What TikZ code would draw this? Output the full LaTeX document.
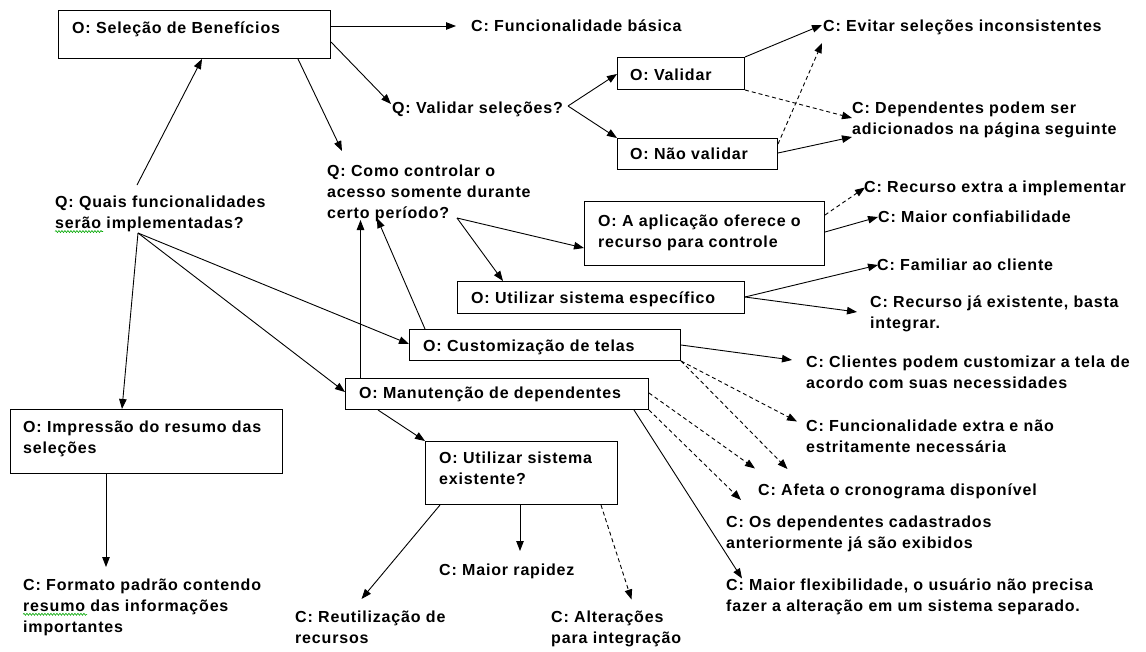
\documentclass[tikz,border=0pt]{standalone}
\usepackage{fontspec}
\newfontfamily\diagfont{Liberation Sans Bold}[LetterSpace=5.2]
\usetikzlibrary{arrows.meta,calc,decorations.pathmorphing}

\begin{document}
\begin{tikzpicture}[x=1pt,y=-1pt,
  box/.style={draw, line width=1pt, inner sep=0pt, anchor=north west},
  % text nodes: anchored at the baseline of their last line
  txt/.style={inner sep=0pt, anchor=base west, align=left,
              font=\diagfont\fontsize{16}{21}\selectfont},
  link/.style={line width=0.9pt, -{Triangle[length=10pt,width=7.5pt]}},
  dlink/.style={link, dash pattern=on 4pt off 3pt},
  spell/.style={draw=green!65!black, line width=0.6pt,
                decorate, decoration={snake, amplitude=1pt, segment length=3pt}},
]
\useasboundingbox (0,0) rectangle (1146,651);

% ---------- option boxes ----------
\node[box, minimum width=272pt, minimum height=48pt] (bSel)  at (58,10)  {};
\node[box, minimum width=127pt, minimum height=32pt] (bVal)  at (617,57) {};
\node[box, minimum width=160pt, minimum height=31pt] (bNVal) at (617,138) {};
\node[box, minimum width=240pt, minimum height=64pt] (bApl)  at (584,201) {};
\node[box, minimum width=287pt, minimum height=32pt] (bEsp)  at (457,281) {};
\node[box, minimum width=271pt, minimum height=31pt] (bCus)  at (409,329) {};
\node[box, minimum width=303pt, minimum height=31pt] (bMan)  at (345,378) {};
\node[box, minimum width=192pt, minimum height=63pt] (bExi)  at (425,441) {};
\node[box, minimum width=272pt, minimum height=64pt] (bImp)  at (10,409)  {};

% ---------- box captions ----------
\node[txt] (tSel)  at (72,33.3)  {O: Seleção de Benefícios};
\node[txt] (tVal)  at (630,80)   {O: Validar};
\node[txt] (tNVal) at (630,159.5){O: Não validar};
\node[txt] (tApl)  at (598,247)  {O: A aplicação oferece o\\recurso para controle};
\node[txt] (tEsp)  at (471,303)  {O: Utilizar sistema específico};
\node[txt] (tCus)  at (423,351.5){O: Customização de telas};
\node[txt] (tMan)  at (359,398.5){O: Manutenção de dependentes};
\node[txt] (tExi)  at (439,484.5){O: Utilizar sistema\\existente?};
\node[txt] (tImp)  at (23,453)   {O: Impressão do resumo das\\seleções};

% ---------- questions ----------
\node[txt] (qVal) at (392,113) {Q: Validar seleções?};
\node[txt] (qQua) at (55,228)  {Q: Quais funcionalidades\\serão implementadas?};
\node[txt] (qCom) at (327,218) {Q: Como controlar o\\acesso somente durante\\certo período?};

% ---------- criteria ----------
\node[txt] (cBas) at (471,31.5)  {C: Funcionalidade básica};
\node[txt] (cEvi) at (823,31.5)  {C: Evitar seleções inconsistentes};
\node[txt] (cDep) at (852,134.5) {C: Dependentes podem ser\\adicionados na página seguinte};
\node[txt] (cExt) at (864,192.5) {C: Recurso extra a implementar};
\node[txt] (cCon) at (878,222.5) {C: Maior confiabilidade};
\node[txt] (cFam) at (877,270.5) {C: Familiar ao cliente};
\node[txt] (cRec) at (870,328.5) {C: Recurso já existente, basta\\integrar.};
\node[txt] (cCli) at (806,388)   {C: Clientes podem customizar a tela de\\acordo com suas necessidades};
\node[txt] (cFex) at (806,452.5) {C: Funcionalidade extra e não\\estritamente necessária};
\node[txt] (cAfe) at (758,495)   {C: Afeta o cronograma disponível};
\node[txt] (cOsd) at (726,548)   {C: Os dependentes cadastrados\\anteriormente já são exibidos};
\node[txt] (cFle) at (726,611.5) {C: Maior flexibilidade, o usuário não precisa\\fazer a alteração em um sistema separado.};
\node[txt] (cFor) at (23,632)    {C: Formato padrão contendo\\resumo das informações\\importantes};
\node[txt] (cReu) at (295,643)   {C: Reutilização de\\recursos};
\node[txt] (cRap) at (439,575.5) {C: Maior rapidez};
\node[txt] (cAlt) at (551,643)   {C: Alterações\\para integração};

% spell-check underlines
\draw[spell] ($(qQua.base west)+(0,3.5)$) -- ($(qQua.base west)+(48,3.5)$);
\draw[spell] ($(cFor.base west)+(0,-17.7)$) -- ($(cFor.base west)+(64,-17.7)$);

% ---------- connectors ----------
% Seleção de Benefícios
\draw[link] ($(bSel.north east)+(0,16)$) -- ($(cBas.base west)+(-15,-5.5)$);
\draw[link] ($(bSel.north east)+(0,32)$) -- ($(qVal.base west)+(-1,-9)$);
\draw[link] ($(bSel.south west)+(240,0)$) -- ($(qCom.base west)+(15,-67)$);
\draw[link] ($(qQua.base west)+(82,-43)$) -- ($(bSel.south west)+(144,0)$);

% Validar seleções?
\coordinate (vVal) at ($(qVal.base west)+(176,-7)$);
\draw[link] (vVal) -- ($(bVal.north west)+(0,17)$);
\draw[link] (vVal) -- (bNVal.north west);
\draw[link] (bVal.north east) -- ($(cEvi.base west)+(-1,-6.5)$);
\draw[dlink] (bVal.south east) -- ($(cDep.base west)+(0,-16.5)$);
\draw[link] ($(bNVal.north east)+(0,15)$) -- ($(cDep.base west)+(0,2.5)$);
\draw[dlink] ($(bNVal.north east)+(0,6)$) -- ($(cEvi.base west)+(-1,11.5)$);

% Como controlar o acesso
\coordinate (vCom) at ($(qCom.base west)+(130,0)$);
\draw[link] (vCom) -- ($(bApl.north west)+(0,47)$);
\draw[link] (vCom) -- ($(bEsp.north west)+(46,0)$);
\draw[dlink] ($(bApl.north east)+(0,14)$) -- ($(cExt.base west)+(1,-5)$);
\draw[link] ($(bApl.north east)+(0,31)$) -- ($(cCon.base west)+(0,-5.5)$);
\coordinate (vEsp) at ($(bEsp.north east)+(0,16)$);
\draw[link] (vEsp) -- ($(cFam.base west)+(1,-5.5)$);
\draw[link] (vEsp) -- ($(cRec.base west)+(-13,-16.5)$);
\draw[link] ($(bCus.north west)+(16,0)$) -- ($(qCom.base west)+(50,0)$);
\draw[link] ($(bMan.north west)+(15.5,0)$) -- ($(qCom.base west)+(33.5,2)$);

% Quais funcionalidades
\coordinate (vQua) at ($(qQua.base west)+(83,5)$);
\draw[link] (vQua) -- ($(bCus.north west)+(0,15)$);
\draw[link] (vQua) -- ($(bMan.north west)+(0,14)$);
\draw[link] (vQua) -- ($(bImp.north west)+(112,0)$);
\draw[link] ($(bImp.south west)+(96,0)$) -- ($(cFor.base west)+(83,-65)$);

% Customização de telas
\draw[link] ($(bCus.north east)+(0,16)$) -- ($(cCli.base west)+(-14,-28)$);
\draw[dlink] (bCus.south east) -- ($(cFex.base west)+(-9,-31)$);
\draw[dlink] (bCus.south east) -- ($(cAfe.base west)+(29.5,-26)$);

% Manutenção de dependentes
\draw[dlink] ($(bMan.north east)+(0,15)$) -- ($(cAfe.base west)+(-3,-26.5)$);
\draw[dlink] (bMan.south east) -- ($(cOsd.base west)+(15,-48)$);
\draw[link] ($(bMan.south east)+(-15,0)$) -- ($(cFle.base west)+(16,-33)$);
\draw[link] ($(bMan.south west)+(33,0)$) -- (bExi.north west);

% Utilizar sistema existente?
\draw[link] ($(bExi.south west)+(15,0)$) -- ($(cReu.base west)+(66.5,-44)$);
\draw[link] ($(bExi.south west)+(95,0)$) -- ($(cRap.base west)+(81,-24.5)$);
\draw[dlink] ($(bExi.south east)+(-17,0)$) -- ($(cAlt.base west)+(80.5,-43.5)$);
\end{tikzpicture}
\end{document}
